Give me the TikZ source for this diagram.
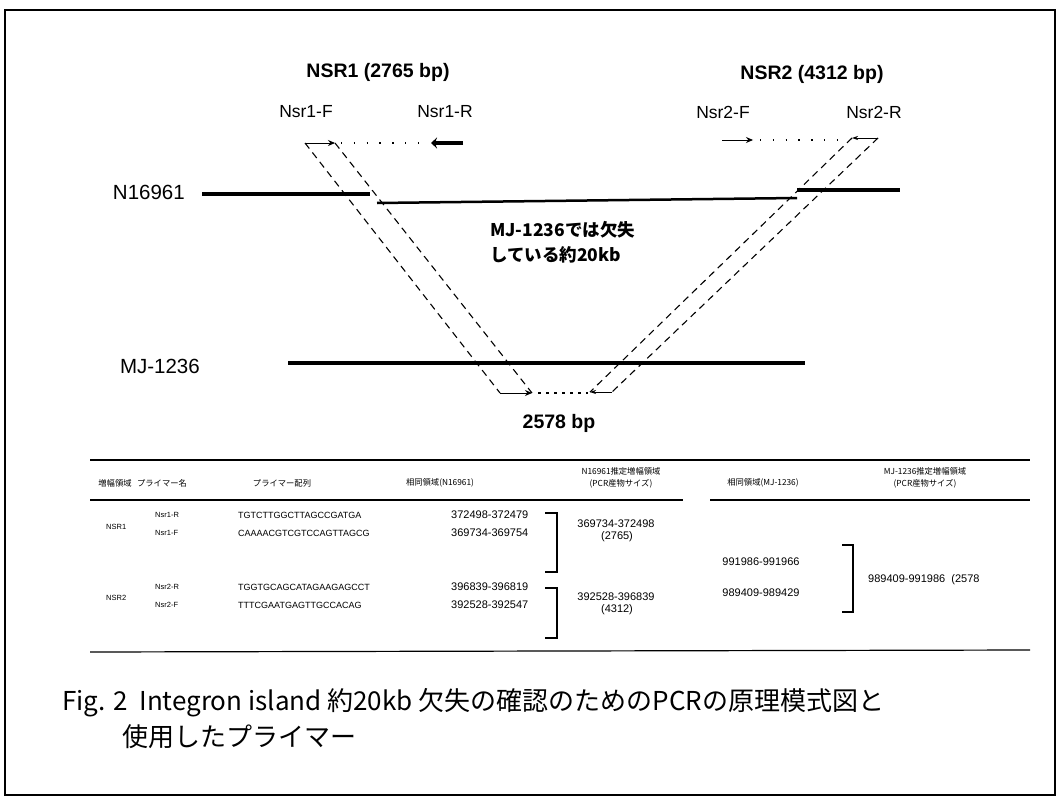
\documentclass[tikz,border=0pt]{standalone}
\usepackage{fontspec}
\setmainfont{Liberation Sans}
\newfontfamily\jp{Noto Sans CJK JP}
\usetikzlibrary{arrows.meta}
\tikzset{
  ttl/.style={font=\bfseries\fontsize{19.5}{22}\selectfont, inner sep=0pt},
  lbl/.style={font=\fontsize{17.5}{20}\selectfont, inner sep=0pt},
  strain/.style={font=\fontsize{20.5}{23}\selectfont, inner sep=0pt},
  jpb/.style={font=\jp\bfseries\fontsize{17.5}{20}\selectfont, inner sep=0pt},
  chrom/.style={line width=4pt},
  chromthin/.style={line width=2.5pt},
  primer/.style={line width=1pt, -{Stealth[length=7pt,width=6pt]}},
  primerthick/.style={line width=4pt, -{Stealth[length=6pt,width=11pt]}},
  primerthin/.style={line width=0.7pt, -{Stealth[length=6pt,width=4pt]}},
  dots/.style={line width=1.3pt, dash pattern=on 1.3pt off 11.5pt},
  bdots/.style={line width=2.2pt, dash pattern=on 2.5pt off 5.5pt},
  guide/.style={line width=1.1pt, dash pattern=on 7pt off 5pt},
  th/.style={font=\jp\fontsize{8.3}{11.5}\selectfont, inner sep=0pt, align=center},
  tsmall/.style={font=\fontsize{7.5}{9}\selectfont, inner sep=0pt, anchor=west},
  tseq/.style={font=\fontsize{9}{11}\selectfont, inner sep=0pt, anchor=west},
  tnum/.style={font=\fontsize{11}{13}\selectfont, inner sep=0pt},
  rule/.style={line width=1.2pt},
  brk/.style={line width=2pt},
  captxt/.style={font=\jp\fontsize{26}{29}\selectfont, inner sep=0pt, anchor=west}
}
\begin{document}
\begin{tikzpicture}[x=1pt,y=-1pt]
\useasboundingbox (0,0) rectangle (1059,797);
\fill[white] (0,0) rectangle (1059,797);
\draw[line width=2pt] (5,10) rectangle (1055,795);

% titles and primer labels
\node[ttl] (nsr1) at (378,72) {NSR1 (2765 bp)};
\node[ttl] (nsr2) at (812,74) {NSR2 (4312 bp)};
\node[lbl] (l1f) at (306,112) {Nsr1-F};
\node[lbl] (l1r) at (445,112) {Nsr1-R};
\node[lbl] (l2f) at (723,112) {Nsr2-F};
\node[lbl] (l2r) at (874,112) {Nsr2-R};

% strain labels
\node[strain, anchor=east] (sN) at (185,192) {N16961};
\node[strain, anchor=east] (sM) at (200,366) {MJ-1236};

% chromosome lines
\coordinate (n1a) at (202,194); \coordinate (n1b) at (370,194);
\coordinate (n2a) at (377,203); \coordinate (n2b) at (797,198);
\coordinate (n3a) at (797,190); \coordinate (n3b) at (900,190);
\coordinate (m1a) at (288,363); \coordinate (m1b) at (805,363);
\draw[chrom] (n1a) -- (n1b);
\draw[chromthin] (n2a) -- (n2b);
\draw[chrom] (n3a) -- (n3b);
\draw[chrom] (m1a) -- (m1b);

% primer arrows, top
\coordinate (f1s) at (305,143); \coordinate (f1e) at (335,143);
\coordinate (r1s) at (463,143); \coordinate (r1e) at (431,143);
\coordinate (f2s) at (722,140); \coordinate (f2e) at (753,140);
\coordinate (r2s) at (878,138); \coordinate (r2e) at (852,138);
\draw[primer] (f1s) -- (f1e);
\draw[primerthick] (r1s) -- (r1e);
\draw[primer] (f2s) -- (f2e);
\draw[primerthin] (r2s) -- (r2e);
\coordinate (d1a) at (341,143); \coordinate (d1b) at (428,143);
\coordinate (d2a) at (760,140); \coordinate (d2b) at (848,140);
\draw[dots] (d1a) -- (d1b);
\draw[dots] (d2a) -- (d2b);

% product arrows, bottom
\coordinate (bfs) at (500,393); \coordinate (bfe) at (532,393);
\coordinate (brs) at (612,392); \coordinate (bre) at (590,392);
\draw[primer] (bfs) -- (bfe);
\draw[primerthin] (brs) -- (bre);
\coordinate (d3a) at (538,393); \coordinate (d3b) at (588,393);
\draw[bdots] (d3a) -- (d3b);

% dashed guide lines
\draw[guide] (f1s) -- (bfs);
\draw[guide] (f1e) -- (bfe);
\draw[guide] (r2e) -- (bre);
\draw[guide] (r2s) -- (brs);

% deletion note and product size
\node[jpb, anchor=west] (del1) at (490,230) {MJ-1236では欠失};
\node[jpb, anchor=west] (del2) at (490,255) {している約20kb};
\node[ttl] (prod) at (559,423) {2578 bp};

% table rules
\coordinate (t1a) at (90,460); \coordinate (t1b) at (1030,460);
\coordinate (t2a) at (90,500); \coordinate (t2b) at (683,500);
\coordinate (t3a) at (710,500); \coordinate (t3b) at (1030,500);
\coordinate (t4a) at (90,652); \coordinate (t4b) at (1030,650);
\draw[rule] (t1a) -- (t1b);
\draw[rule] (t2a) -- (t2b);
\draw[rule] (t3a) -- (t3b);
\draw[rule] (t4a) -- (t4b);

% table header
\node[th] (h1) at (115,483) {増幅領域};
\node[th] (h2) at (162,483) {プライマー名};
\node[th] (h3) at (282,483) {プライマー配列};
\node[th] (h4) at (440,483) {相同領域(N16961)};
\node[th] (h5) at (621,478) {N16961推定増幅領域\\(PCR産物サイズ)};
\node[th] (h6) at (763,483) {相同領域(MJ-1236)};
\node[th] (h7) at (925,478) {MJ-1236推定増幅領域\\(PCR産物サイズ)};

% table body
\node[tsmall] (g1) at (106,527) {NSR1};
\node[tsmall] (g2) at (106,598) {NSR2};
\node[tsmall] (p1) at (155,515) {Nsr1-R};
\node[tsmall] (p2) at (155,533) {Nsr1-F};
\node[tsmall] (p3) at (155,587) {Nsr2-R};
\node[tsmall] (p4) at (155,605) {Nsr2-F};
\node[tseq] (q1) at (238,515) {TGTCTTGGCTTAGCCGATGA};
\node[tseq] (q2) at (238,533) {CAAAACGTCGTCCAGTTAGCG};
\node[tseq] (q3) at (238,587) {TGGTGCAGCATAGAAGAGCCT};
\node[tseq] (q4) at (238,605) {TTTCGAATGAGTTGCCACAG};
\node[tnum, anchor=west] (c1) at (451,515) {372498-372479};
\node[tnum, anchor=west] (c2) at (451,533) {369734-369754};
\node[tnum, anchor=west] (c3) at (451,587) {396839-396819};
\node[tnum, anchor=west] (c4) at (451,605) {392528-392547};

% brackets
\coordinate (b1a) at (545,513); \coordinate (b1b) at (557,513);
\coordinate (b1c) at (557,572); \coordinate (b1d) at (545,572);
\coordinate (b2a) at (545,588); \coordinate (b2b) at (557,588);
\coordinate (b2c) at (557,638); \coordinate (b2d) at (545,638);
\coordinate (b3a) at (842,545); \coordinate (b3b) at (853,545);
\coordinate (b3c) at (853,612); \coordinate (b3d) at (842,612);
\draw[brk] (b1a) -- (b1b) -- (b1c) -- (b1d);
\draw[brk] (b2a) -- (b2b) -- (b2c) -- (b2d);
\draw[brk] (b3a) -- (b3b) -- (b3c) -- (b3d);

\node[tnum] (a1) at (616,524) {369734-372498};
\node[tnum] (a1s) at (617,537) {(2765)};
\node[tnum] (a2) at (616,597) {392528-396839};
\node[tnum] (a2s) at (617,610) {(4312)};
\node[tnum] (m1) at (761,562) {991986-991966};
\node[tnum] (m2) at (761,593) {989409-989429};
\node[tnum, anchor=west] (m3) at (868,580) {989409-991986\ \ (2578};

% caption
\node[captxt] (cap1) at (62,703) {Fig. 2\ \ Integron island 約20kb 欠失の確認のためのPCRの原理模式図と};
\node[captxt] (cap2) at (122,737) {使用したプライマー};
\end{tikzpicture}
\end{document}
